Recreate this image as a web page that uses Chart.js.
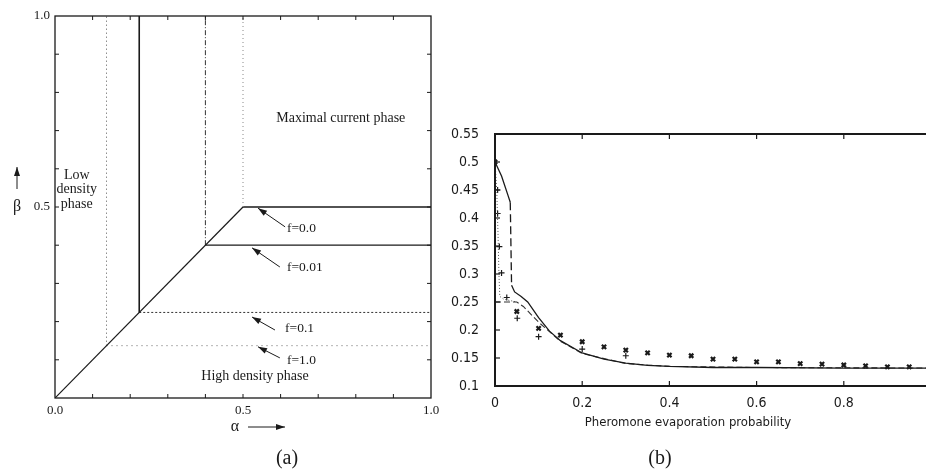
<!DOCTYPE html>
<html>
<head>
<meta charset="utf-8">
<script src="https://cdn.jsdelivr.net/npm/chart.js@4.4.0/dist/chart.umd.min.js"></script>
<style>
html,body{margin:0;padding:0;background:#fff;width:926px;height:472px;overflow:hidden;position:relative}
#ca{position:absolute;left:0;top:0}
#cb{position:absolute;left:440px;top:0}
</style>
</head>
<body>
<canvas id="ca" width="460" height="472"></canvas>
<canvas id="cb" width="500" height="472"></canvas>
<script>
// panel (a): phase diagram, critical alpha=beta point for each f
const fLabels = ['f=0.0', 'f=0.01', 'f=0.1', 'f=1.0'];
const fCrit = [0.5, 0.4, 0.224, 0.137];

// panel (b): flux vs pheromone evaporation probability
const solidX = [0, 0.015, 0.03, 0.035, 0.038, 0.045, 0.06, 0.075, 0.1, 0.125, 0.15, 0.2, 0.25, 0.3, 0.35, 0.4, 0.5, 0.6, 0.8, 1.0];
const solidY = [0.5, 0.475, 0.44, 0.428, 0.28, 0.268, 0.26, 0.25, 0.222, 0.198, 0.181, 0.159, 0.148, 0.141, 0.137, 0.135, 0.133, 0.133, 0.132, 0.132];
const dashX = [0, 0.05, 0.065, 0.1, 0.15, 0.2, 0.3, 0.4, 0.6, 1.0];
const dashY = [0.25, 0.25, 0.242, 0.214, 0.18, 0.158, 0.14, 0.135, 0.133, 0.132];
const dotX = [0, 0.004, 0.007, 0.009, 0.011, 0.02, 0.05];
const dotY = [0.5, 0.45, 0.37, 0.3, 0.26, 0.255, 0.25];
const starX = [0, 0.05, 0.1, 0.15, 0.2, 0.25, 0.3, 0.35, 0.4, 0.45, 0.5, 0.55, 0.6, 0.65, 0.7, 0.75, 0.8, 0.85, 0.9, 0.95];
const starY = [0.5, 0.233, 0.203, 0.191, 0.179, 0.17, 0.164, 0.159, 0.155, 0.154, 0.148, 0.148, 0.143, 0.143, 0.14, 0.139, 0.1375, 0.136, 0.134, 0.134];
const plusX = [0.006, 0.006, 0.01, 0.015, 0.027, 0.051, 0.1, 0.2, 0.3];
const plusY = [0.45, 0.408, 0.349, 0.302, 0.258, 0.221, 0.188, 0.166, 0.154];

const ink = '#1a1a1a';
const serif = '"Liberation Serif", "DejaVu Serif", serif';
const narrow = '"DejaVu Sans Condensed", "Liberation Sans Narrow", sans-serif';

function pts(xs, ys) { return xs.map((x, i) => ({x: x, y: ys[i]})); }

// (a) lines built from the critical points
const dsA = [];
dsA.push({data: [{x: 0, y: 0}, {x: fCrit[0], y: fCrit[0]}], borderColor: ink, borderWidth: 1.2});
const vStyle = [{d: [1, 3], c: '#888', w: 1}, {d: [5, 2, 1, 2], c: '#333', w: 1}, {d: [], c: ink, w: 1.6}, {d: [1, 3], c: '#555', w: 1}];
const hStyle = [{d: [], c: ink, w: 1.3}, {d: [], c: ink, w: 1.3}, {d: [2, 2], c: '#333', w: 1}, {d: [1, 4], c: '#666', w: 1}];
fCrit.forEach((v, i) => {
  dsA.push({data: [{x: v, y: v}, {x: v, y: 1}], borderColor: vStyle[i].c, borderWidth: vStyle[i].w, borderDash: vStyle[i].d});
  dsA.push({data: [{x: v, y: v}, {x: 1, y: v}], borderColor: hStyle[i].c, borderWidth: hStyle[i].w, borderDash: hStyle[i].d});
});

function arrow(ctx, x1, y1, x2, y2) {
  const a = Math.atan2(y2 - y1, x2 - x1);
  ctx.beginPath(); ctx.moveTo(x1, y1); ctx.lineTo(x2, y2); ctx.stroke();
  ctx.beginPath();
  ctx.moveTo(x2, y2);
  ctx.lineTo(x2 - 9 * Math.cos(a) + 3 * Math.sin(a), y2 - 9 * Math.sin(a) - 3 * Math.cos(a));
  ctx.lineTo(x2 - 9 * Math.cos(a) - 3 * Math.sin(a), y2 - 9 * Math.sin(a) + 3 * Math.cos(a));
  ctx.closePath(); ctx.fill();
}

const overlayA = {
  id: 'overlayA',
  afterDraw(chart) {
    const ctx = chart.ctx, xs = chart.scales.x, ys = chart.scales.y, ca = chart.chartArea;
    const X = v => xs.getPixelForValue(v), Y = v => ys.getPixelForValue(v);
    ctx.save();
    ctx.strokeStyle = ink; ctx.fillStyle = ink; ctx.lineWidth = 1.3;
    ctx.strokeRect(ca.left, ca.top, ca.right - ca.left, ca.bottom - ca.top);
    ctx.lineWidth = 1;
    for (let k = 1; k < 10; k++) {
      const px = X(k / 10), py = Y(k / 10);
      ctx.beginPath();
      ctx.moveTo(px, ca.bottom); ctx.lineTo(px, ca.bottom - 4);
      ctx.moveTo(px, ca.top); ctx.lineTo(px, ca.top + 4);
      ctx.moveTo(ca.left, py); ctx.lineTo(ca.left + 4, py);
      ctx.moveTo(ca.right, py); ctx.lineTo(ca.right - 4, py);
      ctx.stroke();
    }
    ctx.font = '14px ' + serif;
    ctx.textBaseline = 'middle';
    ctx.textAlign = 'center';
    ctx.fillText('Maximal current phase', X(0.76), Y(0.733));
    ctx.fillText('Low', X(0.058), Y(0.583));
    ctx.fillText('density', X(0.058), Y(0.545));
    ctx.fillText('phase', X(0.058), Y(0.508));
    ctx.fillText('High density phase', X(0.532), Y(0.058));
    const fTxt = [[0.617, 0.445], [0.617, 0.343], [0.612, 0.183], [0.617, 0.097]];
    const fArr = [[0.612, 0.448, 0.54, 0.497], [0.598, 0.343, 0.524, 0.393], [0.585, 0.178, 0.524, 0.212], [0.598, 0.105, 0.54, 0.134]];
    ctx.textAlign = 'left';
    ctx.font = '13.5px ' + serif;
    fLabels.forEach((t, i) => {
      ctx.fillText(t, X(fTxt[i][0]), Y(fTxt[i][1]));
      arrow(ctx, X(fArr[i][0]), Y(fArr[i][1]), X(fArr[i][2]), Y(fArr[i][3]));
    });
    // axis names
    ctx.textAlign = 'center';
    ctx.font = '16px ' + serif;
    ctx.fillText('\u03b2', 17, Y(0.5));
    arrow(ctx, 17, Y(0.5) - 18, 17, Y(0.5) - 40);
    ctx.fillText('\u03b1', 235, 427);
    arrow(ctx, 248, 427, 285, 427);
    ctx.font = '20px ' + serif;
    ctx.fillText('(a)', 287, 459);
    ctx.restore();
  }
};

new Chart(document.getElementById('ca'), {
  type: 'line',
  data: {datasets: dsA},
  options: {
    responsive: false, animation: false,
    layout: {padding: {top: 16, right: 29, left: 0, bottom: 0}},
    elements: {point: {radius: 0}, line: {tension: 0}},
    plugins: {legend: {display: false}, tooltip: {enabled: false}},
    scales: {
      x: {
        type: 'linear', min: 0, max: 1,
        grid: {display: false, drawTicks: false}, border: {display: false},
        ticks: {stepSize: 0.1, autoSkip: false, maxRotation: 0, padding: 5, color: ink, font: {family: serif, size: 13},
          callback: v => (Math.abs(v) < 1e-9 || Math.abs(v - 0.5) < 1e-9 || Math.abs(v - 1) < 1e-9) ? v.toFixed(1) : ''},
        afterFit: s => { s.height = 74; }
      },
      y: {
        type: 'linear', min: 0, max: 1,
        grid: {display: false, drawTicks: false}, border: {display: false},
        ticks: {stepSize: 0.1, autoSkip: false, padding: 5, color: ink, font: {family: serif, size: 13},
          callback: v => (Math.abs(v - 0.5) < 1e-9 || Math.abs(v - 1) < 1e-9) ? v.toFixed(1) : ''},
        afterFit: s => { s.width = 55; }
      }
    }
  },
  plugins: [overlayA]
});

const overlayB = {
  id: 'overlayB',
  afterDraw(chart) {
    const ctx = chart.ctx, xs = chart.scales.x, ys = chart.scales.y, ca = chart.chartArea;
    ctx.save();
    ctx.strokeStyle = ink; ctx.fillStyle = ink; ctx.lineWidth = 2;
    ctx.beginPath();
    ctx.moveTo(ca.right + 5, ca.top); ctx.lineTo(ca.left, ca.top); ctx.lineTo(ca.left, ca.bottom); ctx.lineTo(ca.right + 5, ca.bottom);
    ctx.stroke();
    ctx.lineWidth = 1.2;
    for (let k = 1; k < 9; k++) {
      const py = ys.getPixelForValue(0.1 + k * 0.05);
      ctx.beginPath(); ctx.moveTo(ca.left, py); ctx.lineTo(ca.left + 5, py); ctx.stroke();
    }
    for (let k = 1; k < 5; k++) {
      const px = xs.getPixelForValue(k * 0.2);
      ctx.beginPath();
      ctx.moveTo(px, ca.bottom); ctx.lineTo(px, ca.bottom - 5);
      ctx.moveTo(px, ca.top); ctx.lineTo(px, ca.top + 5);
      ctx.stroke();
    }
    ctx.font = '13px ' + narrow;
    ctx.textAlign = 'center'; ctx.textBaseline = 'middle';
    ctx.fillText('Pheromone evaporation probability', 688 - 440, 423);
    ctx.font = '20px ' + serif;
    ctx.fillText('(b)', 660 - 440, 459);
    ctx.restore();
  }
};

const fmt = v => (v > 0.999) ? '' : String(+v.toFixed(2));

new Chart(document.getElementById('cb'), {
  type: 'line',
  data: {
    datasets: [
      {data: pts(solidX, solidY), borderColor: ink, borderWidth: 1.3, pointRadius: 0,
        segment: {borderDash: c => c.p0DataIndex === 3 ? [8, 4] : undefined}},
      {data: pts(dashX, dashY), borderColor: '#333', borderWidth: 1.1, borderDash: [6, 3], pointRadius: 0},
      {data: pts(dotX, dotY), borderColor: '#555', borderWidth: 1, borderDash: [1, 2], pointRadius: 0},
      {data: pts(starX, starY), showLine: false, pointStyle: 'crossRot', pointRadius: 3, borderColor: ink, borderWidth: 2.2},
      {data: pts(plusX, plusY), showLine: false, pointStyle: 'cross', pointRadius: 3, borderColor: ink, borderWidth: 1.2}
    ]
  },
  options: {
    responsive: false, animation: false,
    layout: {padding: {top: 134, right: 2.5, left: 0, bottom: 0}},
    elements: {line: {tension: 0}},
    plugins: {legend: {display: false}, tooltip: {enabled: false}},
    scales: {
      x: {
        type: 'linear', min: 0, max: 1,
        grid: {display: false, drawTicks: false}, border: {display: false},
        ticks: {stepSize: 0.2, autoSkip: false, maxRotation: 0, padding: 9, color: ink, font: {family: narrow, size: 14}, callback: fmt},
        afterFit: s => { s.height = 86; }
      },
      y: {
        type: 'linear', min: 0.1, max: 0.55,
        grid: {display: false, drawTicks: false}, border: {display: false},
        ticks: {stepSize: 0.05, autoSkip: false, padding: 16, color: ink, font: {family: narrow, size: 14}, callback: fmt},
        afterFit: s => { s.width = 55; }
      }
    }
  },
  plugins: [overlayB]
});
</script>
</body>
</html>
